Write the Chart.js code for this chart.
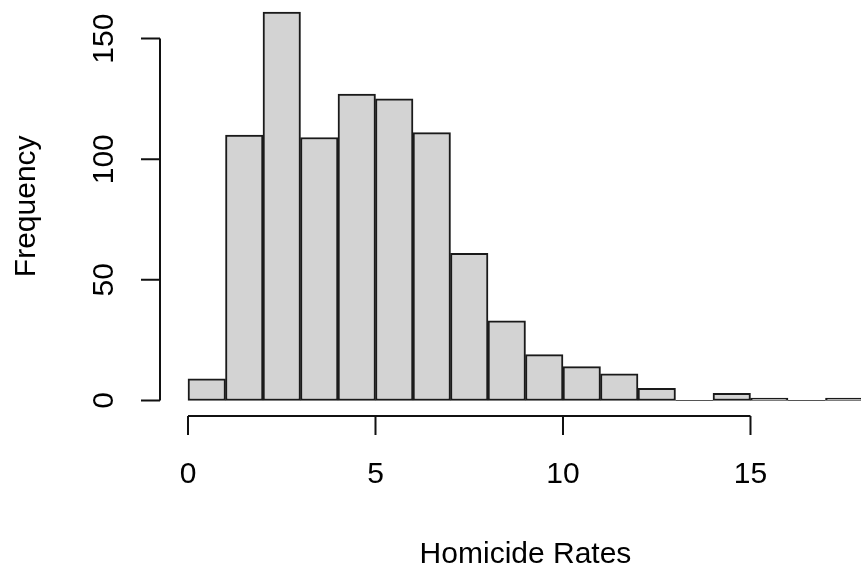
<!DOCTYPE html>
<html>
<head>
<meta charset="utf-8">
<script src="https://cdn.jsdelivr.net/npm/chart.js@4/dist/chart.umd.min.js"></script>
<style>
  html, body { margin: 0; padding: 0; background: #ffffff; overflow: hidden; }
  #wrap { position: relative; width: 861px; height: 569px; }
</style>
</head>
<body>
<div id="wrap"><canvas id="c"></canvas></div>
<script>
// ---- data ----
const binStarts = [0, 1, 2, 3, 4, 5, 6, 7, 8, 9, 10, 11, 12, 13, 14, 15, 16, 17];
const binWidth = 1;
const counts = [9, 110, 161, 109, 127, 125, 111, 61, 33, 19, 14, 11, 5, 0, 3, 1, 0, 1];
const xTicks = [0, 5, 10, 15];
const yTicks = [0, 50, 100, 150];
const xTitle = 'Homicide Rates';
const yTitle = 'Frequency';

const FONT = '30px "Liberation Sans", Arial, sans-serif';
const INK = '#111111';

const points = binStarts.map((s, i) => ({ x: s + binWidth / 2, y: counts[i] }));

const rAxes = {
  id: 'rAxes',
  afterDatasetsDraw(chart) {
    const ctx = chart.ctx;
    const xs = chart.scales.x, ys = chart.scales.y;
    const area = chart.chartArea;
    ctx.save();
    // zero-count bins: R draws a flat rectangle at the baseline
    ctx.strokeStyle = '#555555';
    ctx.lineWidth = 1;
    binStarts.forEach((s, i) => {
      if (counts[i] === 0) {
        const y0 = Math.round(ys.getPixelForValue(0)) + 0.5;
        ctx.beginPath();
        ctx.moveTo(xs.getPixelForValue(s), y0);
        ctx.lineTo(xs.getPixelForValue(s + binWidth), y0);
        ctx.stroke();
      }
    });
    ctx.strokeStyle = INK;
    ctx.lineWidth = 2;
    ctx.fillStyle = '#000000';
    ctx.font = FONT;
    // x axis (R style, at bottom of plot region, spanning first..last tick)
    const yAx = area.bottom;
    const tick = 19;
    ctx.beginPath();
    ctx.moveTo(xs.getPixelForValue(xTicks[0]), yAx);
    ctx.lineTo(xs.getPixelForValue(xTicks[xTicks.length - 1]), yAx);
    xTicks.forEach(t => {
      const px = xs.getPixelForValue(t);
      ctx.moveTo(px, yAx);
      ctx.lineTo(px, yAx + tick);
    });
    ctx.stroke();
    ctx.textAlign = 'center';
    ctx.textBaseline = 'alphabetic';
    xTicks.forEach(t => {
      ctx.fillText(String(t), xs.getPixelForValue(t), yAx + 67);
    });
    // y axis
    const xAx = area.left - 1;
    ctx.beginPath();
    ctx.moveTo(xAx, ys.getPixelForValue(yTicks[0]));
    ctx.lineTo(xAx, ys.getPixelForValue(yTicks[yTicks.length - 1]));
    yTicks.forEach(t => {
      const py = ys.getPixelForValue(t);
      ctx.moveTo(xAx, py);
      ctx.lineTo(xAx - tick, py);
    });
    ctx.stroke();
    yTicks.forEach(t => {
      ctx.save();
      ctx.translate(xAx - 47, ys.getPixelForValue(t));
      ctx.rotate(-Math.PI / 2);
      ctx.textAlign = 'center';
      ctx.fillText(String(t), 0, 0);
      ctx.restore();
    });
    // titles (centred on R plot region: data range extended by 4%)
    const xMid = xs.getPixelForValue(binStarts[0] + (binStarts[binStarts.length - 1] + binWidth - binStarts[0]) / 2);
    ctx.textAlign = 'center';
    ctx.fillText(xTitle, xMid, yAx + 147);
    const maxC = Math.max(...counts);
    const yMid = ys.getPixelForValue(maxC / 2);
    ctx.save();
    ctx.translate(35, yMid);
    ctx.rotate(-Math.PI / 2);
    ctx.textAlign = 'center';
    ctx.fillText(yTitle, 0, 0);
    ctx.restore();
    ctx.restore();
  }
};

new Chart(document.getElementById('c'), {
  type: 'bar',
  data: {
    datasets: [{
      data: points,
      backgroundColor: '#d3d3d3',
      borderColor: '#1a1a1a',
      borderWidth: 2,
      borderSkipped: false,
      barPercentage: 1,
      categoryPercentage: 1
    }]
  },
  options: {
    responsive: true,
    maintainAspectRatio: false,
    animation: false,
    layout: { padding: { left: 161, right: 0, top: 0, bottom: 153 } },
    plugins: { legend: { display: false }, tooltip: { enabled: false } },
    scales: {
      x: { type: 'linear', min: -0.72, max: 17.947, display: false, offset: false },
      y: { type: 'linear', min: -6.44, max: 166.0, display: false }
    }
  },
  plugins: [rAxes]
});
</script>
</body>
</html>
